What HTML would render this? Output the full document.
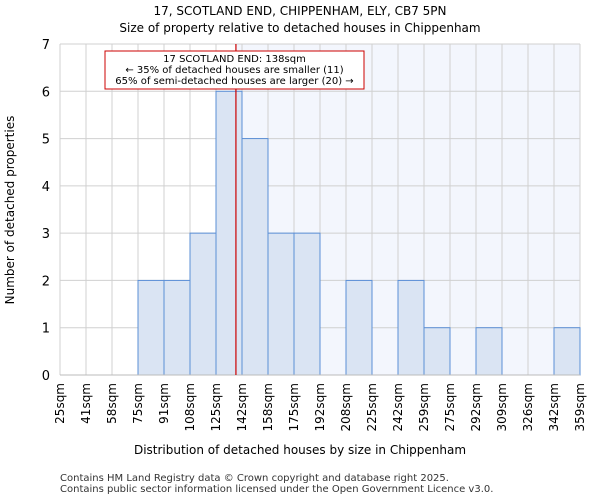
<!DOCTYPE html>
<html><head><meta charset="utf-8"><style>
body{margin:0;background:#fff;font-family:"DejaVu Sans","Liberation Sans",sans-serif;}
</style></head><body>
<svg width="600" height="500" xmlns="http://www.w3.org/2000/svg" font-family="DejaVu Sans, Liberation Sans, sans-serif">
<text x="300" y="15" text-anchor="middle" font-size="12">17, SCOTLAND END, CHIPPENHAM, ELY, CB7 5PN</text>
<text x="300" y="32" text-anchor="middle" font-size="12">Size of property relative to detached houses in Chippenham</text>
<g id="plot"></g>
<text x="300" y="454" text-anchor="middle" font-size="12">Distribution of detached houses by size in Chippenham</text>
<text x="14" y="210" text-anchor="middle" font-size="12" transform="rotate(-90 14 210)">Number of detached properties</text>
<text x="60" y="481" font-size="10" fill="#333">Contains HM Land Registry data © Crown copyright and database right 2025.</text>
<text x="60" y="492" font-size="10" fill="#333">Contains public sector information licensed under the Open Government Licence v3.0.</text>
</svg>
<script>
const labels=["25sqm","41sqm","58sqm","75sqm","91sqm","108sqm","125sqm","142sqm","158sqm","175sqm","192sqm","208sqm","225sqm","242sqm","259sqm","275sqm","292sqm","309sqm","326sqm","342sqm","359sqm"];
const counts=[0,0,0,2,2,3,6,5,3,3,0,2,0,2,1,0,1,0,0,1];
const yTicks=[0,1,2,3,4,5,6,7];
const edgeStart=25, edgeStep=16.7;
const propertySize=138;
const L=60,R=580,T=44,B=375,yMax=7;
const NS="http://www.w3.org/2000/svg";
const g=document.getElementById('plot');
const bw=(R-L)/counts.length;
const x=v=>L+(v-edgeStart)/edgeStep*bw;
const y=v=>B-v/yMax*(B-T);
function el(t,a){const e=document.createElementNS(NS,t);for(const k in a)e.setAttribute(k,a[k]);g.appendChild(e);return e;}
const px=x(propertySize);
let bg=el('rect',{x:px,y:T,width:R-px,height:B-T,fill:'#f3f6fd'});


for(let i=0;i<=counts.length;i++){let l=el('line',{x1:L+i*bw,x2:L+i*bw,y1:T,y2:B,stroke:'#d0d0d0'});

}
yTicks.forEach(t=>{let l=el('line',{x1:L,x2:R,y1:y(t),y2:y(t),stroke:'#d0d0d0'});


let tx=el('text',{x:L-10,y:y(t)+5,'text-anchor':'end','font-size':13});tx.textContent=t;

});
counts.forEach((c,i)=>{if(c<=0)return;let r=el('rect',{x:L+i*bw,y:y(c),width:bw,height:B-y(c),fill:'#dae4f3',stroke:'#5b8fd6','stroke-width':1});

});
labels.forEach((lb,i)=>{const xx=L+i*bw+4;let t=el('text',{x:xx,y:B+8,'text-anchor':'end','font-size':12,transform:`rotate(-90 ${xx} ${B+8})`});t.textContent=lb;

});
let ax=el('line',{x1:L,x2:R,y1:B,y2:B,stroke:'#bbb'});


let ml=el('line',{x1:px,x2:px,y1:T,y2:B,stroke:'#cc0000','stroke-width':1.2});


let box=el('rect',{x:105,y:51,width:259,height:38,fill:'#fff',stroke:'#cc0000'});


["17 SCOTLAND END: 138sqm","← 35% of detached houses are smaller (11)","65% of semi-detached houses are larger (20) →"].forEach((s,i)=>{let t=el('text',{x:234.5,y:62+i*11,'text-anchor':'middle','font-size':10});t.textContent=s;

});
</script>
</body></html>
